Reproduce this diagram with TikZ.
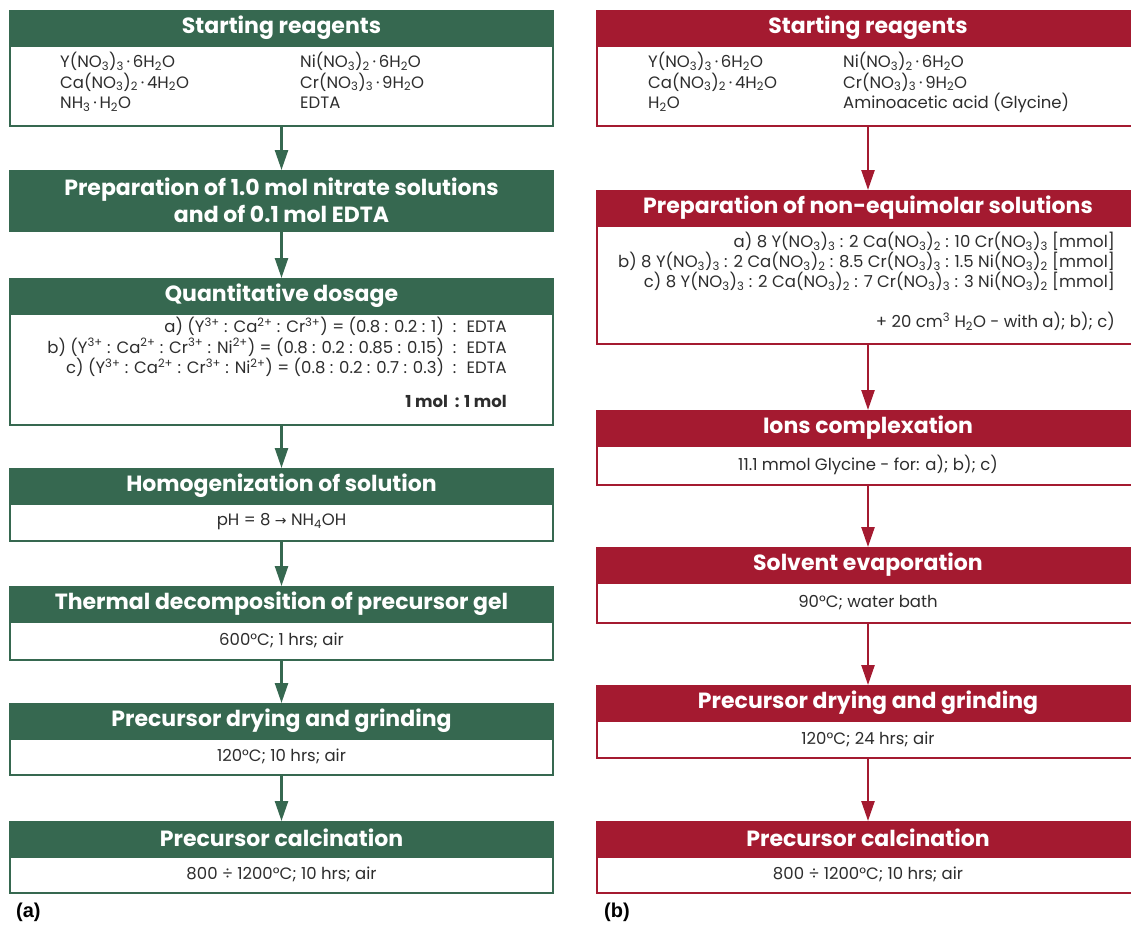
\documentclass[tikz,border=0pt]{standalone}
\usepackage{fontspec}
\setmainfont{Poppins}
\newfontfamily\labfont{Liberation Sans}
\newfontfamily\djv{DejaVu Sans}
\usetikzlibrary{arrows.meta}
\definecolor{gr}{RGB}{54,104,80}
\definecolor{rd}{RGB}{164,26,48}
\definecolor{tx}{RGB}{45,45,45}
\newcommand{\sub}[1]{\textsubscript{#1}}
\newcommand{\sups}[1]{\textsuperscript{#1}}
\begin{document}
\begin{tikzpicture}[x=1pt,y=-1pt,
  hdr/.style={fill=#1, draw=#1, line width=1.5pt, text=white,
    font=\fontsize{22}{26}\selectfont\bfseries, minimum width=543pt,
    minimum height=33pt, inner sep=0pt, anchor=north},
  bdy/.style={draw=#1, fill=white, line width=2pt, minimum width=543pt,
    anchor=north, inner sep=0pt},
  txt/.style={font=\fontsize{16.5}{20.5}\selectfont, text=tx, inner sep=0pt},
  flow/.style={draw=#1, line width=2.5pt, -{Triangle[length=20pt,width=13pt]}},
  lab/.style={font=\labfont\bfseries\fontsize{20}{24}\selectfont, anchor=west, inner sep=0pt}
]
\useasboundingbox (0,0) rectangle (1131,926);
% ---------------- (a) left column ----------------
\node[hdr=gr] (a1h) at (281.5,10) {Starting reagents};
\node[bdy=gr, minimum height=80pt] (a1b) at (a1h.south) {};
\node[txt, anchor=north west, align=left] (a1t1) at (60,52)
  {Y(NO\sub{3})\sub{3}\,·\,6H\sub{2}O\\Ca(NO\sub{3})\sub{2}\,·\,4H\sub{2}O\\NH\sub{3}\,·\,H\sub{2}O};
\node[txt, anchor=north west, align=left] (a1t2) at (300,52)
  {Ni(NO\sub{3})\sub{2}\,·\,6H\sub{2}O\\Cr(NO\sub{3})\sub{3}\,·\,9H\sub{2}O\\EDTA};

\node[hdr=gr, minimum height=60pt, align=center, font=\fontsize{22}{27}\selectfont\bfseries] (a2h) at (281.5,170)
  {Preparation of 1.0 mol nitrate solutions\\and of 0.1 mol EDTA};

\node[hdr=gr] (a3h) at (281.5,278) {Quantitative dosage};
\node[bdy=gr, minimum height=111pt] (a3b) at (a3h.south) {};
\node[txt, anchor=north east, align=right] (a3t) at (507,317)
  {a) (Y\sups{3+} : Ca\sups{2+} : Cr\sups{3+}) = (0.8 : 0.2 : 1) \ : \ EDTA\\
   b) (Y\sups{3+} : Ca\sups{2+} : Cr\sups{3+} : Ni\sups{2+}) = (0.8 : 0.2 : 0.85 : 0.15) \ : \ EDTA\\
   c) (Y\sups{3+} : Ca\sups{2+} : Cr\sups{3+} : Ni\sups{2+}) = (0.8 : 0.2 : 0.7 : 0.3) \ : \ EDTA\\[13pt]
   \textbf{1 mol \ : 1 mol}};

\node[hdr=gr] (a4h) at (281.5,468) {Homogenization of solution};
\node[bdy=gr, minimum height=37pt] (a4b) at (a4h.south) {};
\node[txt] (a4t) at (a4b.center) {pH = 8 {\djv\fontsize{14}{16}\selectfont→} NH\sub{4}OH};

\node[hdr=gr] (a5h) at (281.5,586) {Thermal decomposition of precursor gel};
\node[bdy=gr, minimum height=38pt] (a5b) at (a5h.south) {};
\node[txt] (a5t) at (a5b.center) {600°C; 1 hrs; air};

\node[hdr=gr] (a6h) at (281.5,703) {Precursor drying and grinding};
\node[bdy=gr, minimum height=36pt] (a6b) at (a6h.south) {};
\node[txt] (a6t) at (a6b.center) {120°C; 10 hrs; air};

\node[hdr=gr] (a7h) at (281.5,821) {Precursor calcination};
\node[bdy=gr, minimum height=36pt] (a7b) at (a7h.south) {};
\node[txt] (a7t) at (a7b.center) {800 ÷ 1200°C; 10 hrs; air};

\node[lab] (la) at (16,912) {(a)};

\draw[flow=gr] (a1b.south) -- (a2h.north);
\draw[flow=gr] (a2h.south) -- (a3h.north);
\draw[flow=gr] (a3b.south) -- (a4h.north);
\draw[flow=gr] (a4b.south) -- (a5h.north);
\draw[flow=gr] (a5b.south) -- (a6h.north);
\draw[flow=gr] (a6b.south) -- (a7h.north);

% ---------------- (b) right column ----------------
\node[hdr=rd] (b1h) at (868,10) {Starting reagents};
\node[bdy=rd, minimum height=80pt] (b1b) at (b1h.south) {};
\node[txt, anchor=north west, align=left] (b1t1) at (648,52)
  {Y(NO\sub{3})\sub{3}\,·\,6H\sub{2}O\\Ca(NO\sub{3})\sub{2}\,·\,4H\sub{2}O\\H\sub{2}O};
\node[txt, anchor=north west, align=left] (b1t2) at (843,52)
  {Ni(NO\sub{3})\sub{2}\,·\,6H\sub{2}O\\Cr(NO\sub{3})\sub{3}\,·\,9H\sub{2}O\\Aminoacetic acid (Glycine)};

\node[hdr=rd] (b2h) at (868,190) {Preparation of non-equimolar solutions};
\node[bdy=rd, minimum height=118pt] (b2b) at (b2h.south) {};
\node[txt, anchor=north east, align=right, font=\fontsize{16.5}{20}\selectfont] (b2t) at (1115,232)
  {a) 8 Y(NO\sub{3})\sub{3} : 2 Ca(NO\sub{3})\sub{2} : 10 Cr(NO\sub{3})\sub{3} [mmol]\\
   b) 8 Y(NO\sub{3})\sub{3} : 2 Ca(NO\sub{3})\sub{2} : 8.5 Cr(NO\sub{3})\sub{3} : 1.5 Ni(NO\sub{3})\sub{2} [mmol]\\
   c) 8 Y(NO\sub{3})\sub{3} : 2 Ca(NO\sub{3})\sub{2} : 7 Cr(NO\sub{3})\sub{3} : 3 Ni(NO\sub{3})\sub{2} [mmol]\\[20pt]
   + 20 cm\sups{3} H\sub{2}O - with a); b); c)};

\node[hdr=rd] (b3h) at (868,410) {Ions complexation};
\node[bdy=rd, minimum height=39pt] (b3b) at (b3h.south) {};
\node[txt] (b3t) at (b3b.center) {11.1 mmol Glycine - for: a); b); c)};

\node[hdr=rd] (b4h) at (868,547) {Solvent evaporation};
\node[bdy=rd, minimum height=40pt] (b4b) at (b4h.south) {};
\node[txt] (b4t) at (b4b.center) {90°C; water bath};

\node[hdr=rd] (b5h) at (868,685) {Precursor drying and grinding};
\node[bdy=rd, minimum height=37pt] (b5b) at (b5h.south) {};
\node[txt] (b5t) at (b5b.center) {120°C; 24 hrs; air};

\node[hdr=rd] (b6h) at (868,821) {Precursor calcination};
\node[bdy=rd, minimum height=36pt] (b6b) at (b6h.south) {};
\node[txt] (b6t) at (b6b.center) {800 ÷ 1200°C; 10 hrs; air};

\node[lab] (lb) at (604,912) {(b)};

\draw[flow=rd] (b1b.south) -- (b2h.north);
\draw[flow=rd] (b2b.south) -- (b3h.north);
\draw[flow=rd] (b3b.south) -- (b4h.north);
\draw[flow=rd] (b4b.south) -- (b5h.north);
\draw[flow=rd] (b5b.south) -- (b6h.north);
\end{tikzpicture}
\end{document}
